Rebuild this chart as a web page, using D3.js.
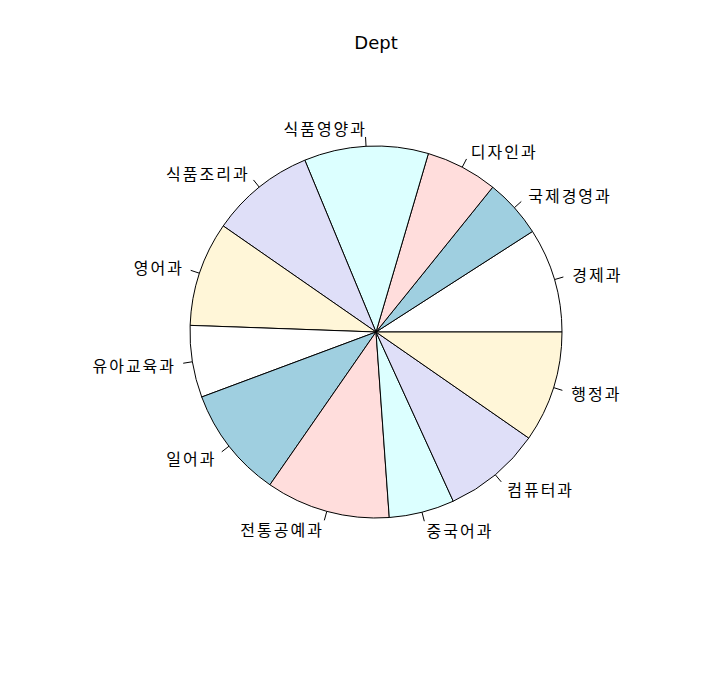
<!DOCTYPE html>
<html><head><meta charset="utf-8">
<script src="https://cdn.jsdelivr.net/npm/d3@7"></script>
<style>body{margin:0;background:#fff}</style>
</head><body>
<svg id="c" width="712" height="685"></svg>
<script>
const categories = ["경제과","국제경영과","디자인과","식품영양과","식품조리과","영어과","유아교육과","일어과","전통공예과","중국어과","컴퓨터과","행정과"];
const values = [16,9,11,19,16,16,11,17,19,10,15,17];
const palette = ["#FFFFFF","#9FCFE0","#FFDDDC","#DCFFFF","#DFDFF8","#FFF6D8"];
const title = "Dept";

const svg = d3.select("#c");
const cx = 376, cy = 332, r = 186;
const total = d3.sum(values);
const ang = d3.scaleLinear().domain([0,total]).range([0, 2*Math.PI]);
let cum = 0;
const slices = values.map((v,i)=>{const s={i,a0:ang(cum),a1:ang(cum+v)}; cum+=v; return s;});
const font = "'Noto Sans CJK KR', 'Noto Sans', sans-serif";

const g = svg.append("g").attr("transform",`translate(${cx},${cy})`);
const toD3 = a => Math.PI/2 - a;
const arc = d3.arc().innerRadius(0).outerRadius(r);
slices.forEach(s=>{
  g.append("path")
    .attr("d", arc({startAngle: toD3(s.a1), endAngle: toD3(s.a0)}))
    .attr("fill", palette[s.i % palette.length])
    .attr("stroke","#000").attr("stroke-width",1);
});
const ls = 2;
slices.forEach(s=>{
  const m = (s.a0+s.a1)/2, c = Math.cos(m), sn = Math.sin(m);
  g.append("line")
    .attr("x1", r*c).attr("y1", -r*sn)
    .attr("x2", 1.05*r*c).attr("y2", -1.05*r*sn)
    .attr("stroke","#000").attr("stroke-width",1);
  g.append("text")
    .attr("x", 1.1*r*c + (c>0 ? 0 : ls)).attr("y", -1.1*r*sn)
    .attr("text-anchor", c>0 ? "start" : "end")
    .attr("dominant-baseline","central")
    .attr("font-family", font).attr("font-size", 16)
    .attr("letter-spacing", ls)
    .text(categories[s.i]);
});
svg.append("text").attr("x", cx).attr("y", 42)
  .attr("text-anchor","middle").attr("dominant-baseline","central")
  .attr("font-family","'DejaVu Sans', sans-serif").attr("font-size",18)
  .text(title);
</script>
</body></html>
